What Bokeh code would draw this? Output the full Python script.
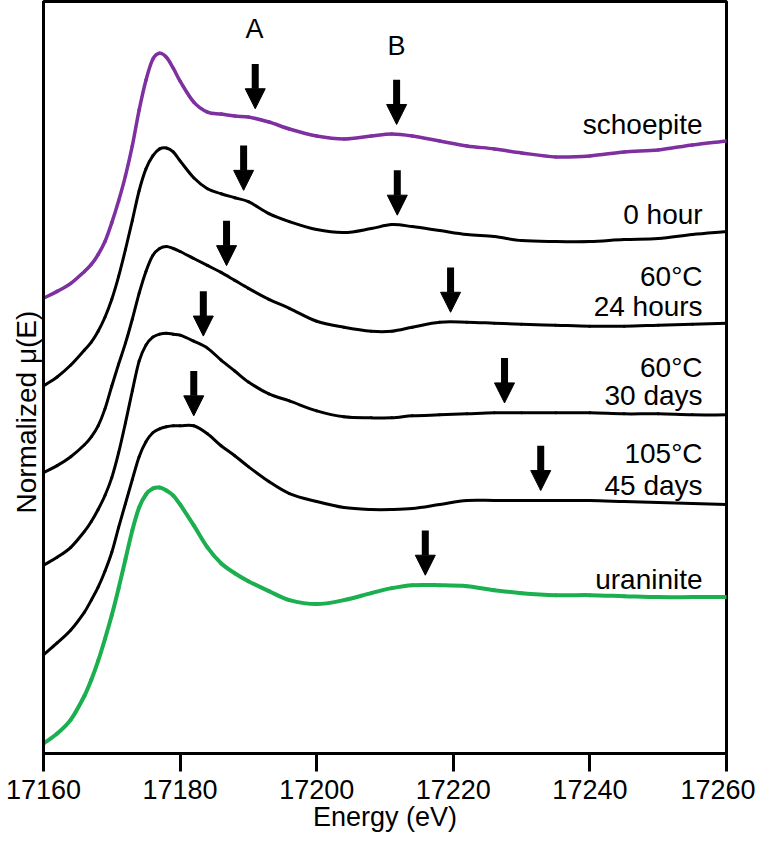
import numpy as np
from bokeh.plotting import figure
from bokeh.models import Range1d, Arrow, NormalHead, ColumnDataSource, FixedTicker, Title
from bokeh.embed import file_html
from bokeh.resources import INLINE
from bokeh.core.properties import value

# Energy grid (eV)
energy = [17160, 17162, 17164, 17166, 17167, 17168, 17169, 17170, 17171, 17172,
          17173, 17174, 17175, 17176, 17177, 17178, 17179, 17180, 17182, 17184,
          17186, 17188, 17190, 17193, 17196, 17200, 17204, 17208, 17211, 17214,
          17218, 17222, 17226, 17230, 17235, 17240, 17245, 17250, 17255, 17260]

# Offset-stacked normalized mu(E) (arbitrary stacked units)
schoepite = [457, 464, 472, 484, 491, 501, 514, 533, 555, 580,
             610, 646, 676, 697, 703, 699, 688, 675, 654, 644,
             642, 640, 639, 634, 627, 620, 617, 620, 622, 620,
             615, 610, 607, 603, 599, 600, 604, 606, 611, 615]
hour_0 = [369, 378, 390, 405, 413, 424, 438, 456, 479, 506,
          535, 565, 587, 600, 607, 608, 604, 595, 578, 567,
          562, 558, 554, 542, 534, 526, 523, 527, 531, 529,
          525, 521, 519, 515, 514, 514, 516, 517, 521, 524]
c60_24h = [282, 289, 298, 310, 318, 329, 346, 369, 391, 412,
           436, 462, 484, 500, 507, 509, 507, 504, 497, 490,
           483, 475, 467, 456, 447, 434, 428, 424, 424, 428,
           433, 433, 432, 431, 430, 429, 429, 430, 431, 432]
c60_30d = [189, 197, 207, 223, 233, 245, 259, 277, 302, 332,
           364, 394, 410, 418, 421, 422, 421, 420, 414, 407,
           395, 384, 373, 361, 354, 344, 338, 337, 337, 339,
           340, 341, 342, 342, 342, 342, 341, 341, 340, 340]
c105_45d = [99, 111, 124, 142, 154, 167, 183, 202, 227, 251,
            275, 298, 313, 322, 326, 328, 329, 329, 329, 321,
            309, 299, 288, 273, 261, 253, 247, 245, 245, 246,
            250, 254, 254, 254, 254, 254, 253, 252, 251, 250]
uraninite = [10, 20, 34, 58, 74, 93, 115, 139, 166, 195,
             224, 247, 260, 266, 267, 264, 259, 250, 229, 207,
             191, 181, 173, 163, 154, 150, 154, 161, 166, 169,
             169, 168, 164, 161, 159, 159, 158, 157, 157, 157]

x_ticks = [17160, 17180, 17200, 17220, 17240, 17260]

# Feature arrows (A and B features)
arrow_series = ["schoepite", "schoepite", "hour_0", "hour_0", "c60_24h", "c60_24h",
                "c60_30d", "c60_30d", "c105_45d", "c105_45d", "uraninite"]
arrow_energy = [17191.0, 17211.7, 17189.3, 17211.8, 17186.8, 17219.6,
                17183.4, 17227.5, 17182.0, 17232.8, 17215.9]

feature_letters = ["A", "B"]
feature_energy = [17190.9, 17211.7]

label_lines = ["schoepite", "0 hour", "60°C", "24 hours", "60°C", "30 days",
               "105°C", "45 days", "uraninite"]

series = {"schoepite": schoepite, "hour_0": hour_0, "c60_24h": c60_24h,
          "c60_30d": c60_30d, "c105_45d": c105_45d, "uraninite": uraninite}

FONT = "Liberation Sans"

p = figure(width=755, height=834, x_range=Range1d(17160, 17260), y_range=Range1d(0, 755),
           output_backend="svg", toolbar_location=None,
           min_border_left=43, min_border_right=29, min_border_top=1, min_border_bottom=60,
           x_axis_label="Energy (eV)")

p.xgrid.visible = False
p.ygrid.visible = False
p.outline_line_color = "black"
p.outline_line_width = 3
p.background_fill_color = "white"
p.border_fill_color = "white"

xa = p.xaxis[0]
xa.ticker = FixedTicker(ticks=x_ticks)
xa.minor_tick_line_color = None
xa.major_tick_in = 0
xa.major_tick_out = 18
xa.major_tick_line_width = 3
xa.axis_line_width = 3
xa.major_label_standoff = 8
xa.major_label_text_font = FONT
xa.major_label_text_font_size = "27px"
xa.major_label_text_color = "black"
xa.axis_label_text_font = FONT
xa.axis_label_text_font_size = "27px"
xa.axis_label_text_font_style = "normal"
xa.axis_label_text_color = "black"
xa.axis_label_standoff = 0

ya = p.yaxis[0]
ya.ticker = FixedTicker(ticks=[])
ya.minor_tick_line_color = None
ya.major_tick_in = 0
ya.major_tick_out = 0
ya.major_label_standoff = 0
ya.axis_line_width = 3

# y-axis title, placed as a side title so it can be nudged along the axis
p.add_layout(Title(text="Normalized μ(E)", align="left", offset=240, standoff=4,
                   text_font=FONT, text_font_size="28px", text_font_style="normal",
                   text_color="black"), "left")


def smooth_line(xs, ys, color, width):
    """Draw a smooth (cubic Hermite) curve through the read points with bezier segments."""
    x = np.asarray(xs, dtype=float)
    y = np.asarray(ys, dtype=float)
    m = np.empty_like(y)
    m[1:-1] = (y[2:] - y[:-2]) / (x[2:] - x[:-2])
    m[0] = (y[1] - y[0]) / (x[1] - x[0])
    m[-1] = (y[-1] - y[-2]) / (x[-1] - x[-2])
    h = x[1:] - x[:-1]
    p.bezier(x0=x[:-1], y0=y[:-1], x1=x[1:], y1=y[1:],
             cx0=x[:-1] + h / 3, cy0=y[:-1] + m[:-1] * h / 3,
             cx1=x[1:] - h / 3, cy1=y[1:] - m[1:] * h / 3,
             line_color=color, line_width=width, line_cap="round")


smooth_line(energy, schoepite, "#7E2FA0", 3.5)
smooth_line(energy, hour_0, "black", 3)
smooth_line(energy, c60_24h, "black", 3)
smooth_line(energy, c60_30d, "black", 3)
smooth_line(energy, c105_45d, "black", 3)
smooth_line(energy, uraninite, "#1BAF50", 4)

# arrows: tip a little above the curve at the feature energy
gap = 10
length = 45
tips = [float(np.interp(e, energy, series[s])) + gap for s, e in zip(arrow_series, arrow_energy)]
asrc = ColumnDataSource(dict(x=arrow_energy, y0=[t + length for t in tips], y1=tips))
p.add_layout(Arrow(end=NormalHead(size=20, fill_color="black", line_color="black", line_width=1),
                   x_start="x", y_start="y0", x_end="x", y_end="y1",
                   line_width=7, line_color="black", source=asrc))

# curve labels (right aligned)
label_heights = [632, 541, 479, 449, 388, 359, 301, 269, 175]
p.text(x=[17256.5] * len(label_lines), y=label_heights, text=label_lines,
       text_align="right", text_baseline="alphabetic",
       text_font=value(FONT), text_font_size="28px", text_color="black")

# feature letters
p.text(x=feature_energy, y=[727, 710], text=feature_letters,
       text_align="center", text_baseline="alphabetic",
       text_font=value(FONT), text_font_size="27px", text_color="black")

open("out.html", "w").write(file_html(p, INLINE))
